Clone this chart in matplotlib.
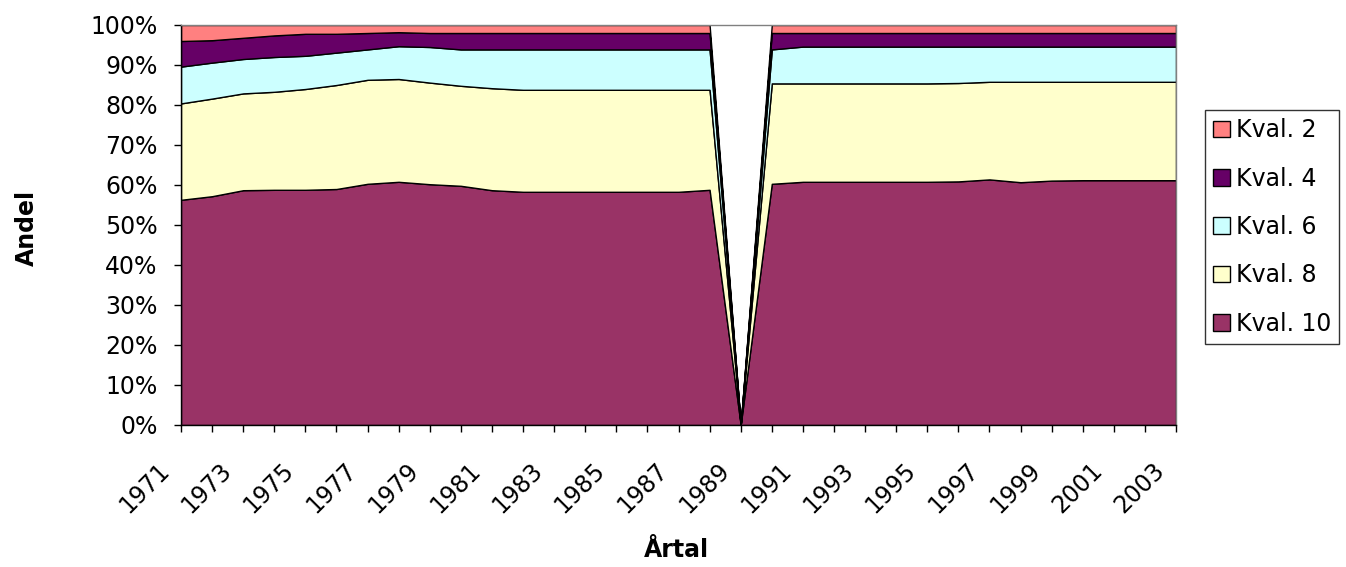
import matplotlib
matplotlib.use("Agg")
import matplotlib.pyplot as plt
import matplotlib.transforms as mtransforms
from matplotlib.patches import Patch

plt.rcParams['font.family'] = ['DejaVu Sans']

years = list(range(1971, 2004))

kval10 = [56.3, 57.2, 58.7, 58.8, 58.8, 59.0, 60.3, 60.8, 60.2, 59.8, 58.7,
          58.3, 58.3, 58.3, 58.3, 58.3, 58.3, 58.8, 0.0, 60.3, 60.8, 60.8,
          60.8, 60.8, 60.8, 60.9, 61.4, 60.7, 61.1, 61.2, 61.2, 61.2, 61.2]
kval8 = [24.1, 24.4, 24.2, 24.5, 25.2, 26.0, 26.0, 25.7, 25.4, 25.0, 25.5,
         25.5, 25.5, 25.5, 25.5, 25.5, 25.5, 25.0, 0.0, 25.1, 24.6, 24.6,
         24.6, 24.6, 24.6, 24.6, 24.4, 25.1, 24.7, 24.6, 24.6, 24.6, 24.6]
kval6 = [9.2, 9.0, 8.6, 8.7, 8.3, 8.1, 7.6, 8.2, 8.9, 9.1, 9.7,
         10.1, 10.1, 10.1, 10.1, 10.1, 10.1, 10.1, 0.0, 8.5, 9.2, 9.2,
         9.2, 9.2, 9.2, 9.1, 8.8, 8.8, 8.8, 8.8, 8.8, 8.8, 8.8]
kval4 = [6.4, 5.6, 5.3, 5.4, 5.5, 4.7, 4.1, 3.5, 3.5, 4.1, 4.1,
         4.1, 4.1, 4.1, 4.1, 4.1, 4.1, 4.1, 0.0, 4.1, 3.4, 3.4,
         3.4, 3.4, 3.4, 3.4, 3.4, 3.4, 3.4, 3.4, 3.4, 3.4, 3.4]
kval2 = [4.0, 3.8, 3.2, 2.6, 2.2, 2.2, 2.0, 1.8, 2.0, 2.0, 2.0,
         2.0, 2.0, 2.0, 2.0, 2.0, 2.0, 2.0, 0.0, 2.0, 2.0, 2.0,
         2.0, 2.0, 2.0, 2.0, 2.0, 2.0, 2.0, 2.0, 2.0, 2.0, 2.0]

series_names = ['Kval. 10', 'Kval. 8', 'Kval. 6', 'Kval. 4', 'Kval. 2']
colors = ['#993366', '#FFFFCC', '#CCFFFF', '#660066', '#FF8080']
ytick_vals = list(range(0, 101, 10))
ytick_labels = [f"{v}%" for v in ytick_vals]
xtick_labels = [str(y) if (y - 1971) % 2 == 0 else '' for y in years]

FS = 17
W, H = 1346, 567
fig = plt.figure(figsize=(W / 100, H / 100), dpi=100)
ax = fig.add_axes([181 / W, 1 - 425 / H, (1176 - 181) / W, (425 - 25) / H])

ax.stackplot(years, kval10, kval8, kval6, kval4, kval2, colors=colors,
             edgecolor='black', linewidth=1.0)

ax.set_xlim(1971, 2003)
ax.set_ylim(0, 100)
ax.set_yticks(ytick_vals)
ax.set_yticklabels(ytick_labels, fontsize=FS)
ax.set_xticks(years)
ax.set_xticklabels(xtick_labels, fontsize=FS, rotation=45, ha='right',
                   va='center', rotation_mode='anchor')
ax.tick_params(axis='y', direction='out', length=5, width=1, pad=12)
ax.tick_params(axis='x', direction='out', length=5, width=1, pad=25)
offset = mtransforms.ScaledTranslation(-0.15, 0, fig.dpi_scale_trans)
for lab in ax.get_xticklabels():
    lab.set_transform(lab.get_transform() + offset)

for s in ['left', 'bottom']:
    ax.spines[s].set_color('black')
    ax.spines[s].set_linewidth(1.0)
for s in ['top', 'right']:
    ax.spines[s].set_color('#808080')
    ax.spines[s].set_linewidth(1.0)

fig.text(27 / W, 1 - 228 / H, 'Andel', rotation=90, fontsize=FS,
         fontweight='bold', ha='center', va='center')
fig.text(676 / W, 1 - 550 / H, 'Årtal', fontsize=FS, fontweight='bold',
         ha='center', va='center')

handles = [Patch(facecolor=c, edgecolor='black', linewidth=1.0) for c in colors]
order = [4, 3, 2, 1, 0]
leg = fig.legend([handles[i] for i in order], [series_names[i] for i in order],
                 loc='upper left', bbox_to_anchor=(1205 / W, 1 - 110 / H),
                 fontsize=FS, frameon=True, fancybox=False, shadow=False,
                 handlelength=0.7, handleheight=0.7, handletextpad=0.25,
                 labelspacing=1.03, borderpad=0.35, borderaxespad=0)
leg.get_frame().set_edgecolor('black')
leg.get_frame().set_linewidth(1.0)

fig.savefig('out.png', dpi=100)
